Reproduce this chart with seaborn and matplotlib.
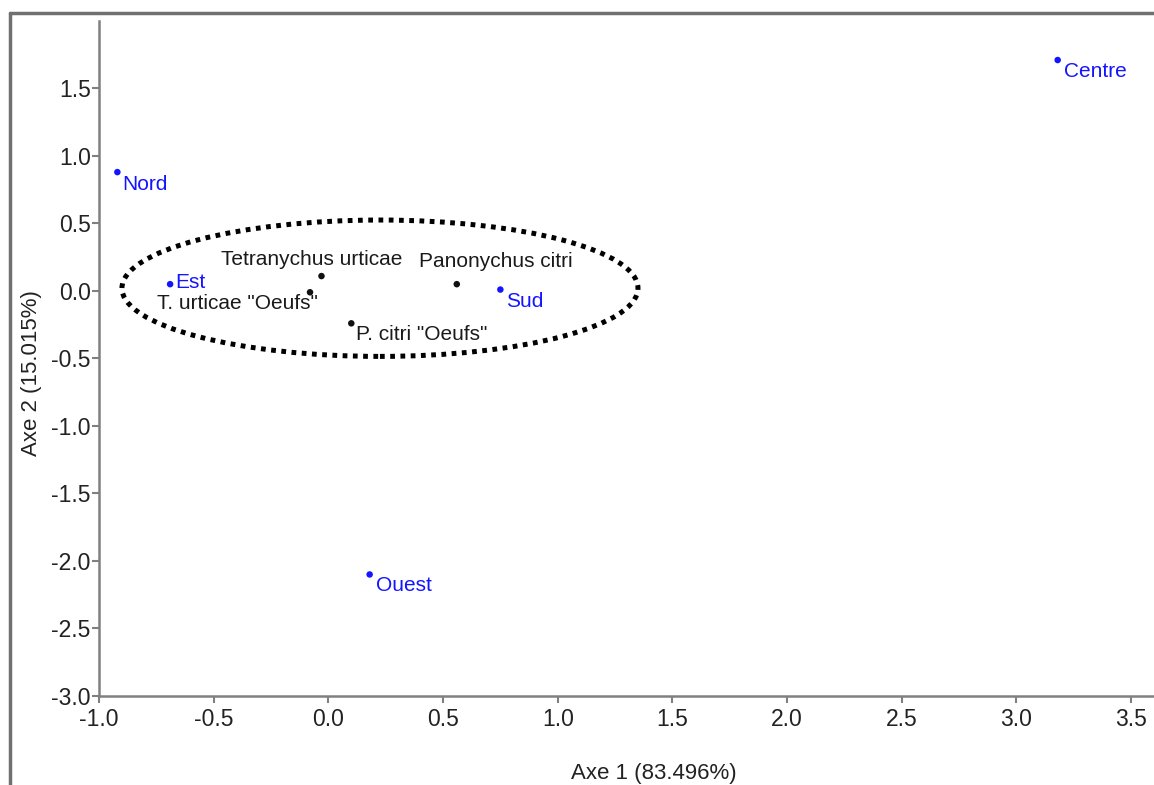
import matplotlib
matplotlib.use("Agg")
import matplotlib.pyplot as plt
from matplotlib.patches import Ellipse
from matplotlib.lines import Line2D
import seaborn as sns
import pandas as pd

# ---- data ----
sites = ["Nord", "Est", "Sud", "Ouest", "Centre"]
site_x = [-0.92, -0.69, 0.75, 0.18, 3.18]
site_y = [0.88, 0.05, 0.01, -2.10, 1.71]

species = ["Tetranychus urticae", "Panonychus citri", 'T. urticae "Oeufs"', 'P. citri "Oeufs"']
sp_x = [-0.03, 0.56, -0.08, 0.10]
sp_y = [0.11, 0.05, -0.01, -0.24]

x_ticks = [-1.0, -0.5, 0.0, 0.5, 1.0, 1.5, 2.0, 2.5, 3.0, 3.5]
y_ticks = [-3.0, -2.5, -2.0, -1.5, -1.0, -0.5, 0.0, 0.5, 1.0, 1.5]
x_label = "Axe 1 (83.496%)"
y_label = "Axe 2 (15.015%)"

df = pd.DataFrame({
    "label": sites + species,
    "x": site_x + sp_x,
    "y": site_y + sp_y,
    "group": ["site"] * len(sites) + ["species"] * len(species),
})

sns.set_theme(style="white")
plt.rcParams["font.family"] = ["Liberation Sans", "DejaVu Sans"]

fig = plt.figure(figsize=(11.54, 7.85), dpi=100)
ax = fig.add_axes([0.0858, 0.1134, 0.9142, 0.86])

site_col = "#1414ff"
sp_col = "#111111"
sns.scatterplot(data=df, x="x", y="y", hue="group",
                palette={"site": site_col, "species": sp_col},
                s=22, linewidth=0, legend=False, ax=ax)

# label offsets (points) and alignment
site_off = {"Nord": (3.6, -8.6), "Est": (3.6, 1.4), "Sud": (4.3, -8.6),
            "Ouest": (4.3, -8.0), "Centre": (4.3, -8.0)}
sp_off = {"Tetranychus urticae": ((-7.2, 12.2), "center"),
          "Panonychus citri": ((28.0, 16.0), "center"),
          'T. urticae "Oeufs"': ((5.8, -8.0), "right"),
          'P. citri "Oeufs"': ((3.6, -8.0), "left")}

for name, x, y in zip(sites, site_x, site_y):
    ax.annotate(name, (x, y), xytext=site_off[name], textcoords="offset points",
                ha="left", va="center", fontsize=15, color=site_col)
for name, x, y in zip(species, sp_x, sp_y):
    off, ha = sp_off[name]
    ax.annotate(name, (x, y), xytext=off, textcoords="offset points",
                ha=ha, va="center", fontsize=15, color="#1a1a1a")

ell = Ellipse((0.225, 0.02), 2.25, 1.01, fill=False, edgecolor="black",
              linewidth=3.6, linestyle=(0, (0.95, 1.1)))
ax.add_patch(ell)

ax.set_xlim(-1.0, 3.6)
ax.set_ylim(-3.0, 2.0)
ax.set_xticks(x_ticks)
ax.set_yticks(y_ticks)
ax.set_xticklabels([f"{v:.1f}" for v in x_ticks])
ax.set_yticklabels([f"{v:.1f}" for v in y_ticks])
ax.tick_params(axis="both", which="both", direction="out", length=5, width=1.5,
               color="#808080", labelsize=16.5, labelcolor="#222222",
               bottom=True, left=True)
ax.tick_params(axis="x", pad=4)
ax.tick_params(axis="y", pad=1)

for side in ["top", "right"]:
    ax.spines[side].set_visible(False)
for side in ["left", "bottom"]:
    ax.spines[side].set_color("#808080")
    ax.spines[side].set_linewidth(1.8)

ax.set_xlabel(x_label, fontsize=16, color="#222222")
ax.set_ylabel(y_label, fontsize=16, color="#222222")
ax.xaxis.set_label_coords(0.526, -0.099)
ax.yaxis.set_label_coords(-0.054, 0.478)

# outer frame (left and top lines)
fig.add_artist(Line2D([10 / 1154, 10 / 1154], [0, 1 - 13 / 785], transform=fig.transFigure,
                      color="#707070", linewidth=2.5))
fig.add_artist(Line2D([10 / 1154, 1], [1 - 13 / 785, 1 - 13 / 785], transform=fig.transFigure,
                      color="#707070", linewidth=2.5))

fig.savefig("out.png", dpi=100)
